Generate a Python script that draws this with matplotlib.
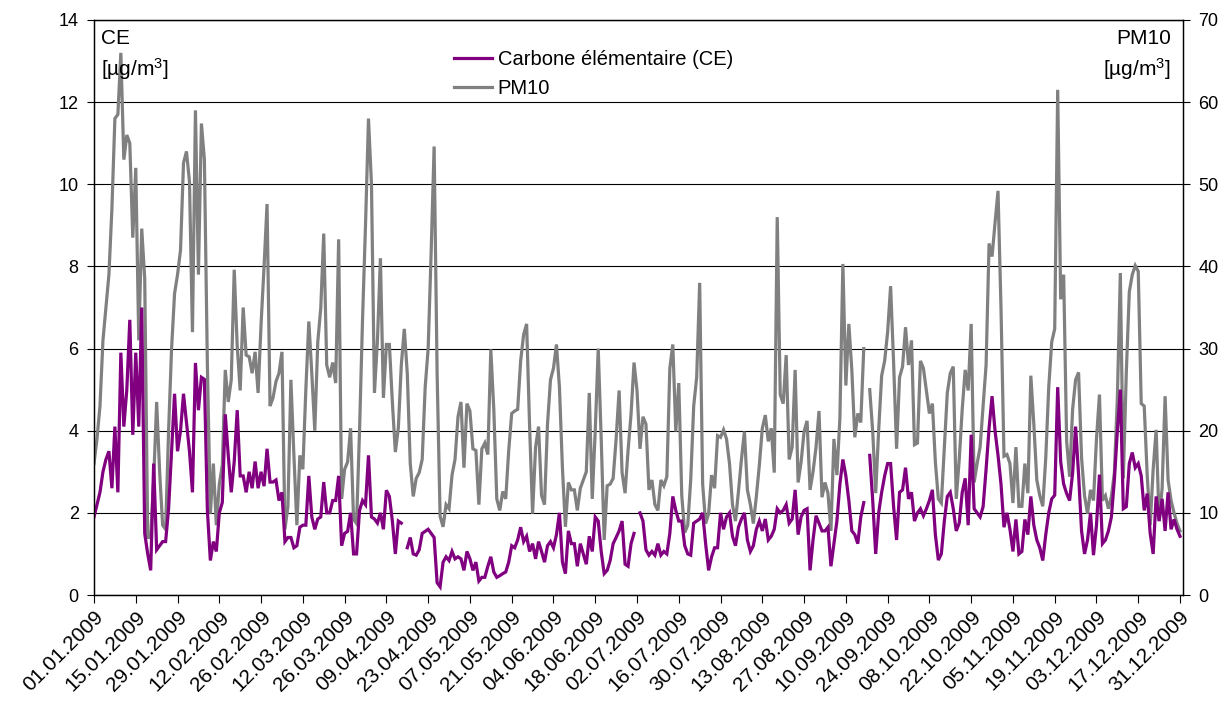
import numpy as np
import matplotlib
matplotlib.use("Agg")
import matplotlib.pyplot as plt
from matplotlib.lines import Line2D

plt.rcParams['font.family'] = ['Liberation Sans', 'DejaVu Sans']
plt.rcParams['mathtext.fontset'] = 'custom'
plt.rcParams['mathtext.rm'] = 'Liberation Sans'
plt.rcParams['mathtext.it'] = 'Liberation Sans'
plt.rcParams['mathtext.bf'] = 'Liberation Sans:bold'

nan = float('nan')

# Daily PM10 values, 01.01.2009 .. 31.12.2009 (µg/m3)
pm10 = [
    16, 19, 23, 31, 35, 39, 47, 58, 58.5, 66,
    53, 56, 55, 43.5, 52, 31, 44.6, 38.5, 7, 7,
    14, 23.5, 15, 8.5, 8, 20, 30, 36.7, 39, 42,
    52.6, 54, 50.3, 32, 59, 39, 57.4, 53, 28, 9.9,
    16, 8.5, 13.5, 15.8, 27.4, 23.5, 26.2, 39.6, 30.3, 24.9,
    35, 29.2, 29, 27, 29.6, 24.6, 33, 40, 47.6, 23,
    24, 26, 27, 29.6, 8, 10.8, 26.2, 17, 8.5, 17,
    15.3, 25, 33.3, 27, 20, 30.8, 34.9, 44, 28, 26.5,
    28.3, 25.8, 43.3, 11.7, 15.3, 16.2, 20.3, 9.2, 8.7, 20,
    33.5, 45, 58, 50, 24.6, 31, 41, 24, 30.5, 30.5,
    23.5, 17.4, 20.3, 28, 32.4, 27, 16, 12, 14.2, 14.9,
    16.5, 25.3, 30, 41.7, 54.6, 27, 9.6, 8.3, 11, 10.5,
    14.6, 16.5, 21.7, 23.5, 15.5, 23.3, 22.4, 17.8, 17.6, 11,
    17.8, 18.5, 17.1, 29.9, 22.6, 11.7, 10.3, 12.6, 11.7, 17.6,
    22.1, 22.4, 22.6, 28.5, 31.7, 33, 20.5, 9.9, 18, 20.5,
    12.1, 11, 20.8, 26.2, 27.6, 30.5, 25.3, 15.5, 8.3, 13.7,
    12.8, 12.8, 10.3, 13, 14, 15, 24.6, 11.7, 20, 30,
    19, 6.7, 13.3, 13.5, 14.2, 19, 24.9, 14.9, 12.4, 17.6,
    22, 28.3, 24.9, 17.8, 21.7, 20.8, 12.8, 14, 11, 10.3,
    14, 13.3, 14.4, 27.6, 30.5, 19.9, 25.8, 12.1, 7.6, 8.5,
    14, 23, 26.5, 38, 13.5, 8.7, 9.9, 14.6, 13, 19.4,
    19.2, 20.1, 19, 16, 11, 9, 12.6, 16.5, 19.9, 12.8,
    11, 8.7, 12, 15.8, 20.3, 21.9, 18.7, 20.3, 14.9, 46,
    24.4, 23.3, 29.2, 16.5, 18, 27.4, 13.7, 16.2, 19.9, 21.2,
    12.8, 15, 18, 22.4, 11.9, 13.7, 12.4, 7.8, 19, 14.6,
    21.5, 40.3, 25.5, 33, 27.4, 19.2, 22.1, 21, 30, nan,
    25, 19.9, 12.4, 20.1, 26.7, 28.5, 32, 37.6, 28.3, 17.8,
    26.5, 27.8, 32.6, 28, 31, 18.3, 18.5, 28.5, 27.6, 24.9,
    22.1, 23.3, 16.2, 11.7, 11.2, 18, 24.6, 27, 27.8, 11.7,
    16.5, 22.6, 27.4, 24.9, 33, 13.7, 16, 18, 23, 28,
    42.8, 41.2, 45.3, 49.2, 34.9, 16.9, 17.1, 16, 11.2, 18,
    10.8, 10.8, 16, 12.4, 26.7, 20.8, 14, 12.1, 10.8, 16.7,
    25.3, 30.8, 32.4, 61.5, 36, 39, 18.7, 14.4, 22.6, 26.2,
    27.1, 16.7, 12.1, 9.9, 12.8, 11.5, 19, 24.4, 11.5, 12.1,
    10.5, 12, 14.9, 24, 39.2, 14.2, 27.1, 36.9, 39, 40.1,
    39.4, 23.3, 23, 14.6, 8.5, 15.3, 20.1, 9, 13, 24.2,
    14, 11.5, 10, 8.7, 7.8,
]

# Daily elemental carbon (CE) values (µg/m3)
ce = [
    1.9, 2.2, 2.5, 3.0, 3.3, 3.5, 2.6, 4.1, 2.5, 5.9,
    4.1, 5.0, 6.7, 3.9, 5.9, 4.1, 7.0, 1.5, 1.0, 0.6,
    3.2, 1.1, 1.2, 1.3, 1.3, 2.1, 3.5, 4.9, 3.5, 4.0,
    4.9, 4.2, 3.5, 2.5, 5.65, 4.5, 5.3, 5.25, 2.06, 0.84,
    1.3, 1.06, 2.0, 2.25, 4.4, 3.4, 2.5, 3.25, 4.5, 2.9,
    2.9, 2.5, 3.0, 2.6, 3.25, 2.6, 3.0, 2.65, 3.56, 2.75,
    2.75, 2.8, 2.3, 2.5, 1.3, 1.4, 1.4, 1.15, 1.2, 1.65,
    1.7, 1.7, 2.9, 1.9, 1.6, 1.85, 1.9, 2.75, 2.0, 2.0,
    2.3, 2.3, 2.9, 1.2, 1.5, 1.55, 2.0, 1.0, 1.0, 2.06,
    2.3, 2.2, 3.4, 1.9, 1.85, 1.75, 2.0, 1.6, 2.55, 2.4,
    1.8, 1.0, 1.8, 1.75, nan, 1.15, 1.4, 1.0, 0.97, 1.1,
    1.5, 1.55, 1.6, 1.5, 1.4, 0.3, 0.2, 0.8, 0.93, 0.84,
    1.06, 0.88, 0.93, 0.88, 0.6, 1.06, 0.88, 0.6, 0.8, 0.34,
    0.43, 0.43, 0.7, 0.93, 0.56, 0.43, 0.47, 0.52, 0.56, 0.8,
    1.2, 1.15, 1.34, 1.65, 1.3, 1.43, 1.06, 1.25, 0.88, 1.3,
    1.06, 0.8, 1.2, 1.3, 1.15, 1.47, 2.0, 0.8, 0.52, 1.56,
    1.25, 1.25, 0.7, 1.25, 1.0, 0.75, 1.43, 1.06, 1.9, 1.8,
    1.06, 0.52, 0.6, 0.84, 1.25, 1.4, 1.56, 1.8, 0.75, 0.7,
    1.25, 1.5, nan, 2.0, 1.8, 1.1, 0.97, 1.06, 0.97, 1.25,
    0.97, 1.06, 1.0, 1.5, 2.4, 2.06, 1.8, 1.8, 1.2, 1.0,
    0.97, 1.75, 1.8, 1.85, 2.0, 1.25, 0.6, 0.93, 1.15, 1.15,
    2.0, 1.6, 1.9, 2.0, 1.43, 1.2, 1.65, 1.85, 2.0, 1.34,
    1.06, 1.2, 1.6, 1.8, 1.56, 1.85, 1.34, 1.43, 1.6, 2.1,
    2.0, 2.06, 2.2, 1.75, 1.85, 2.56, 1.47, 1.9, 2.06, 2.1,
    0.6, 1.34, 1.93, 1.75, 1.56, 1.56, 1.65, 0.7, 1.25, 1.8,
    2.7, 3.3, 2.9, 2.3, 1.56, 1.47, 1.25, 1.9, 2.25, nan,
    3.4, 2.3, 1.0, 2.0, 2.5, 2.9, 3.2, 3.2, 2.15, 1.34,
    2.5, 2.56, 3.1, 2.34, 2.5, 1.8, 2.0, 2.1, 1.93, 2.1,
    2.3, 2.56, 1.47, 0.85, 1.0, 1.8, 2.4, 2.5, 2.1, 1.56,
    1.75, 2.5, 2.84, 1.7, 3.9, 2.1, 2.0, 1.9, 2.15, 3.06,
    4.06, 4.84, 4.0, 3.4, 2.7, 1.65, 2.0, 1.6, 1.06, 1.84,
    1.0, 1.06, 1.84, 1.47, 2.4, 1.7, 1.34, 1.15, 0.84, 1.47,
    2.0, 2.34, 2.43, 5.06, 3.25, 2.7, 2.47, 2.3, 2.97, 4.1,
    2.93, 1.56, 1.0, 1.34, 2.0, 0.97, 1.7, 2.93, 1.25, 1.34,
    1.56, 1.9, 2.8, 4.0, 5.0, 2.1, 2.15, 3.2, 3.47, 3.1,
    3.2, 2.9, 2.06, 2.47, 1.5, 1.0, 2.4, 1.8, 2.34, 1.56,
    2.5, 1.6, 1.84, 1.6, 1.43,
]

tick_labels = [
    "01.01.2009", "15.01.2009", "29.01.2009", "12.02.2009", "26.02.2009",
    "12.03.2009", "26.03.2009", "09.04.2009", "23.04.2009", "07.05.2009",
    "21.05.2009", "04.06.2009", "18.06.2009", "02.07.2009", "16.07.2009",
    "30.07.2009", "13.08.2009", "27.08.2009", "10.09.2009", "24.09.2009",
    "08.10.2009", "22.10.2009", "05.11.2009", "19.11.2009", "03.12.2009",
    "17.12.2009", "31.12.2009",
]
tick_days = [14 * k for k in range(len(tick_labels))]

ce_label = "Carbone élémentaire (CE)"
pm_label = "PM10"
ce_color = "#800080"
pm_color = "#808080"

days = np.arange(len(pm10))

fig = plt.figure(figsize=(12.26, 7.02), dpi=100)
ax2 = fig.add_axes([94 / 1226, 1 - 595 / 702, (1183 - 94) / 1226, (595 - 20) / 702])
ax = ax2.twinx()
ax.yaxis.tick_left()
ax2.yaxis.tick_right()
ax.set_zorder(ax2.get_zorder() + 1)
ax.patch.set_visible(False)

ax2.plot(days, pm10, color=pm_color, lw=2.3, solid_joinstyle='miter')
ax.plot(days, ce, color=ce_color, lw=2.3, solid_joinstyle='miter')

ax.set_ylim(0, 14)
ax2.set_ylim(0, 70)
ax.set_yticks(np.arange(0, 15, 2))
ax2.set_yticks(np.arange(0, 71, 10))
ax2.grid(axis='y', color='black', lw=0.8)
ax2.set_axisbelow(True)

ax.set_xlim(0, 365)
ax2.set_xticks(tick_days)
ax2.set_xticklabels(tick_labels, rotation=45, ha='right', va='top',
                    rotation_mode='anchor', fontsize=15)
ax2.tick_params(axis='x', direction='out', length=6, width=0.8, pad=3)
ax.tick_params(axis='y', direction='out', length=5, width=0.8, labelsize=13, pad=6)
ax2.tick_params(axis='y', direction='out', length=5, width=0.8, labelsize=13, pad=6)

for a in (ax, ax2):
    for s in a.spines.values():
        s.set_linewidth(0.9)
        s.set_color('black')

unit = r"[µg/m$^{3}$]"
ax.text(0.006, 0.985, "CE", transform=ax.transAxes, ha='left', va='top', fontsize=15)
ax.text(0.006, 0.937, unit, transform=ax.transAxes, ha='left', va='top', fontsize=15)
ax.text(0.989, 0.985, "PM10", transform=ax.transAxes, ha='right', va='top', fontsize=15)
ax.text(0.989, 0.937, unit, transform=ax.transAxes, ha='right', va='top', fontsize=15)

handles = [Line2D([], [], color=ce_color, lw=2.3), Line2D([], [], color=pm_color, lw=2.3)]
ax.legend(handles, [ce_label, pm_label], loc='upper left', bbox_to_anchor=(0.331, 0.948),
          frameon=False, fontsize=14.5, handlelength=1.85, handletextpad=0.3,
          labelspacing=0.5, borderaxespad=0, borderpad=0)

fig.savefig("out.png", dpi=100)
